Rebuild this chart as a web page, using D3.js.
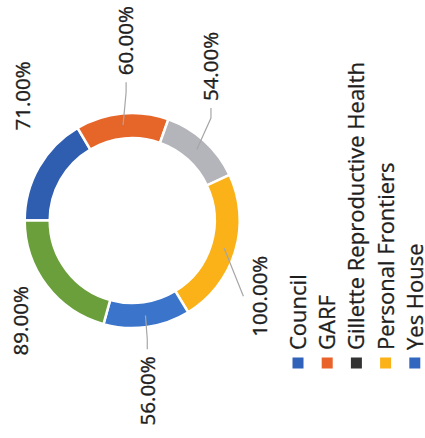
<html>
<head>
<script src="https://d3js.org/d3.v7.min.js"></script>
<style>
  body { margin: 0; background: #fff; }
</style>
</head>
<body>
<svg id="chart"></svg>
<script>
// slices in drawing order, clockwise from 12 o'clock (the whole chart is turned on its side)
var categories = ["Council", "GARF", "Gillette Reproductive Health", "Personal Frontiers", "Yes House", ""]
var values = [71, 60, 54, 100, 56, 89]
var labels = ["71.00%", "60.00%", "54.00%", "100.00%", "56.00%", "89.00%"]
var sliceColors = ["#2f5db0", "#e6662a", "#b4b4bb", "#fbb218", "#3a74cb", "#6a9f3b"]
var legendColors = ["#2f62b8", "#e8622a", "#333333", "#fbb218", "#3267bf"]
var legendCount = 5   // the sixth legend entry falls outside the picture

// label placement tweaks (degrees off the slice middle, distance from centre)
var labelNudge = [18.9, 3.5, -15.2, 14.0, 2.9, -4.7]
var labelDist = [166, 180, 173, 148, 171, 150]
var hasLeader = [false, true, true, true, true, false]

var width = 425, height = 438
var cx = 217.5, cy = 132.2          // centre in the un-rotated frame
var outerR = 107.5, innerR = 82.5
var font = "'Open Sans', sans-serif"

var svg = d3.select("#chart")
    .attr("width", width)
    .attr("height", height)
    .attr("font-family", font)

// draw everything upright, then turn it a quarter to the left
var g = svg.append("g")
    .attr("transform", "translate(0," + height + ") rotate(-90)")

var pie = d3.pie().sort(null).value(d => d)
var arcs = pie(values)
var arc = d3.arc().innerRadius(innerR).outerRadius(outerR)

var ring = g.append("g").attr("transform", "translate(" + cx + "," + cy + ")")

ring.selectAll("path")
  .data(arcs)
  .join("path")
    .attr("d", arc)
    .attr("fill", (d, i) => sliceColors[i])
    .attr("stroke", "#fff")
    .attr("stroke-width", 2.5)

function polar(r, a) {
  return [r * Math.sin(a), -r * Math.cos(a)]
}

var labelG = ring.append("g")

arcs.forEach(function(d, i) {
  var mid = (d.startAngle + d.endAngle) / 2
  var a = mid + labelNudge[i] * Math.PI / 180
  var p = polar(labelDist[i], a)

  var t = labelG.append("text")
      .attr("x", p[0])
      .attr("y", p[1])
      .attr("dy", "0.36em")
      .attr("text-anchor", "middle")
      .attr("font-size", 20.5)
      .attr("fill", "#1e1e1e")
      .attr("stroke", "#1e1e1e")
      .attr("stroke-width", 0.35)
      .text(labels[i])

  if (!hasLeader[i]) return

  var bb = t.node().getBBox()
  var hw = bb.width / 2 + 7, hh = 9 + 7
  var s = polar((innerR + outerR) / 2 + 1, mid)
  var du = s[0] - p[0], dv = s[1] - p[1]
  var pts
  if (Math.abs(du) / hw > Math.abs(dv) / hh) {
    var ex = p[0] + Math.sign(du) * hw
    pts = [s, [ex + Math.sign(du) * 10, p[1]], [ex, p[1]]]
  } else {
    pts = [s, [p[0], p[1] + Math.sign(dv) * hh]]
  }
  labelG.insert("path", "text")
      .attr("d", d3.line()(pts))
      .attr("fill", "none")
      .attr("stroke", "#a6a6a6")
      .attr("stroke-width", 1.2)
})

// legend, stacked under the ring
var legend = g.append("g")
    .attr("transform", "translate(75,298)")

var item = legend.selectAll("g")
  .data(categories.slice(0, legendCount))
  .join("g")
    .attr("transform", (d, i) => "translate(0," + (i * 29.2) + ")")

item.append("rect")
    .attr("x", -5.5)
    .attr("y", -5.5)
    .attr("width", 11)
    .attr("height", 11)
    .attr("fill", (d, i) => legendColors[i])

item.append("text")
    .attr("x", 13)
    .attr("dy", "0.36em")
    .attr("font-size", 22)
    .attr("fill", "#1e1e1e")
    .attr("stroke", "#1e1e1e")
    .attr("stroke-width", 0.3)
    .text(d => d)
</script>
</body>
</html>
